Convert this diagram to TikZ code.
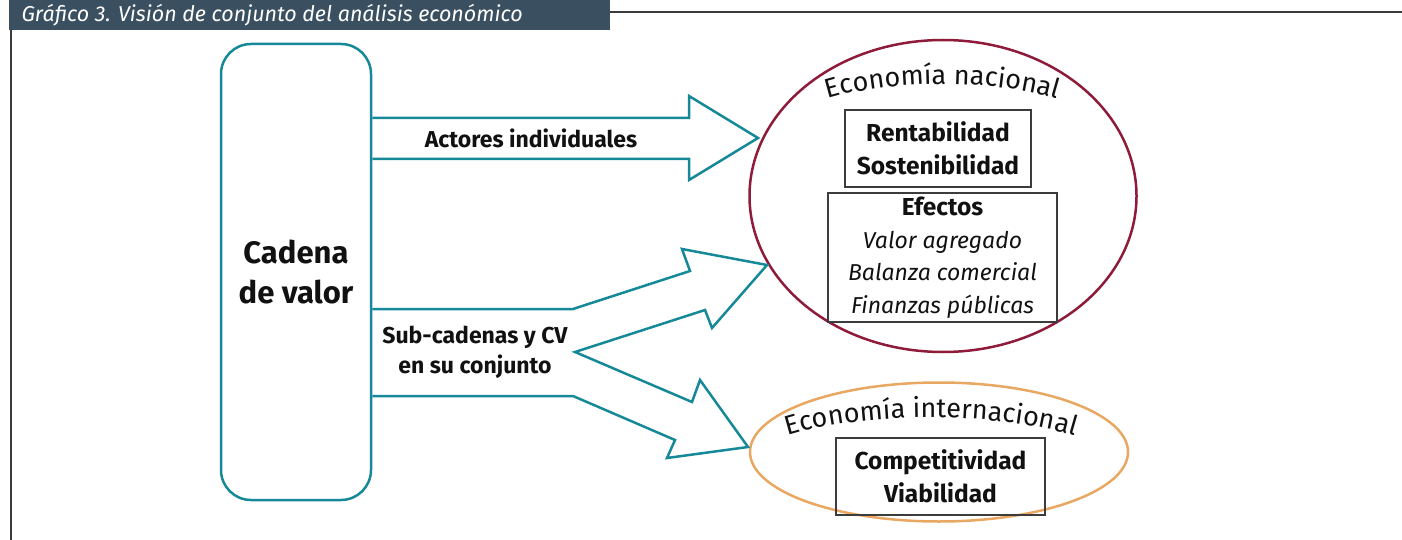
\documentclass[tikz,border=0pt]{standalone}
\usepackage{fontspec}
\setmainfont{Fira Sans}
\usetikzlibrary{shapes.geometric,decorations.text}
\definecolor{cvteal}{RGB}{22,137,153}
\definecolor{nacred}{RGB}{142,27,58}
\definecolor{intorange}{RGB}{232,168,98}
\definecolor{titleslate}{RGB}{58,80,96}
\definecolor{framegray}{RGB}{60,60,60}
\definecolor{inkblack}{RGB}{17,17,17}

\begin{document}
\begin{tikzpicture}[x=1pt,y=-1pt,
    cvbox/.style={draw=cvteal, line width=2.5pt, rounded corners=30pt,
      minimum width=150pt, minimum height=456pt, align=center,
      text=inkblack, font=\fontsize{31}{40}\selectfont\bfseries},
    blockarrow/.style={draw=cvteal, line width=2.5pt},
    arrowtxt/.style={align=center, text=inkblack,
      font=\fontsize{23}{30}\selectfont\bfseries},
    ecoshape/.style={ellipse, line width=2.5pt, inner sep=0pt},
    resbox/.style={draw=framegray, line width=1.2pt, align=center,
      inner sep=0pt, text=inkblack, font=\fontsize{24.5}{32.5}\selectfont}]
    \useasboundingbox (0,0) rectangle (1402,540);

    % Frame and title
    \fill[titleslate] (9,0) rectangle (610,30);
    \node[anchor=west, text=white, font=\fontsize{21.5}{24}\selectfont\itshape]
      (title) at (18,15) {Gráfico 3. Visión de conjunto del análisis económico};
    \draw[framegray, line width=1.5pt] (610,12) -- (1402,12);
    \draw[framegray, line width=1.5pt] (11,30) -- (11,540);

    % Value chain
    \node[cvbox] (cv) at (296,272) {Cadena\\de valor};

    % Economies
    \node[ecoshape, draw=nacred, minimum width=387pt, minimum height=312pt]
      (nac) at (943,196) {};
    \node[ecoshape, draw=intorange, minimum width=378pt, minimum height=139pt]
      (int) at (939,452) {};

    % Result boxes
    \node[resbox, minimum width=186pt, minimum height=77pt] (rent) at (938,148.5)
      {\textbf{Rentabilidad}\\\textbf{Sostenibilidad}};
    \node[resbox, minimum width=229pt, minimum height=129pt] (efe) at (942.5,257.5)
      {\textbf{Efectos}\\{\fontsize{23}{32.5}\selectfont\itshape Valor agregado}\\
       {\fontsize{23}{32.5}\selectfont\itshape Balanza comercial}\\
       {\fontsize{23}{32.5}\selectfont\itshape Finanzas públicas}};
    \node[resbox, minimum width=209pt, minimum height=77pt] (comp) at (940.5,476.5)
      {\textbf{Competitividad}\\\textbf{Viabilidad}};

    % Curved titles
    \path[decorate, decoration={text along path, text align=center,
      text={|\fontsize{27}{30}\selectfont\color{inkblack}|Economía nacional}}]
      (810,105) .. controls (878,77) and (1005,77) .. (1075,105);
    \path[decorate, decoration={text along path, text align=center,
      text={|\fontsize{27}{30}\selectfont\color{inkblack}|Economía internacional}}]
      (772,441) .. controls (852,410) and (1008,410) .. (1090,441);

    % Arrow: individual actors
    \draw[blockarrow] (cv.east |- 0,118) -- (689,118) -- (689,96) -- (758,138)
      -- (689,180) -- (689,159) -- (cv.east |- 0,159);
    \node[arrowtxt] (act) at (531,138) {Actores individuales};

    % Arrow: sub-chains, split in two
    \draw[blockarrow] (cv.east |- 0,309) -- (573,309) -- (690,271) -- (682,249)
      -- (767,265) -- (712,328) -- (705,310) -- (575,352) -- (692,402)
      -- (700,380) -- (748,447) -- (667,458) -- (675,440) -- (573,396)
      -- (cv.east |- 0,396);
    \node[arrowtxt] (sub) at (475,352) {Sub-cadenas y CV\\en su conjunto};
\end{tikzpicture}
\end{document}
